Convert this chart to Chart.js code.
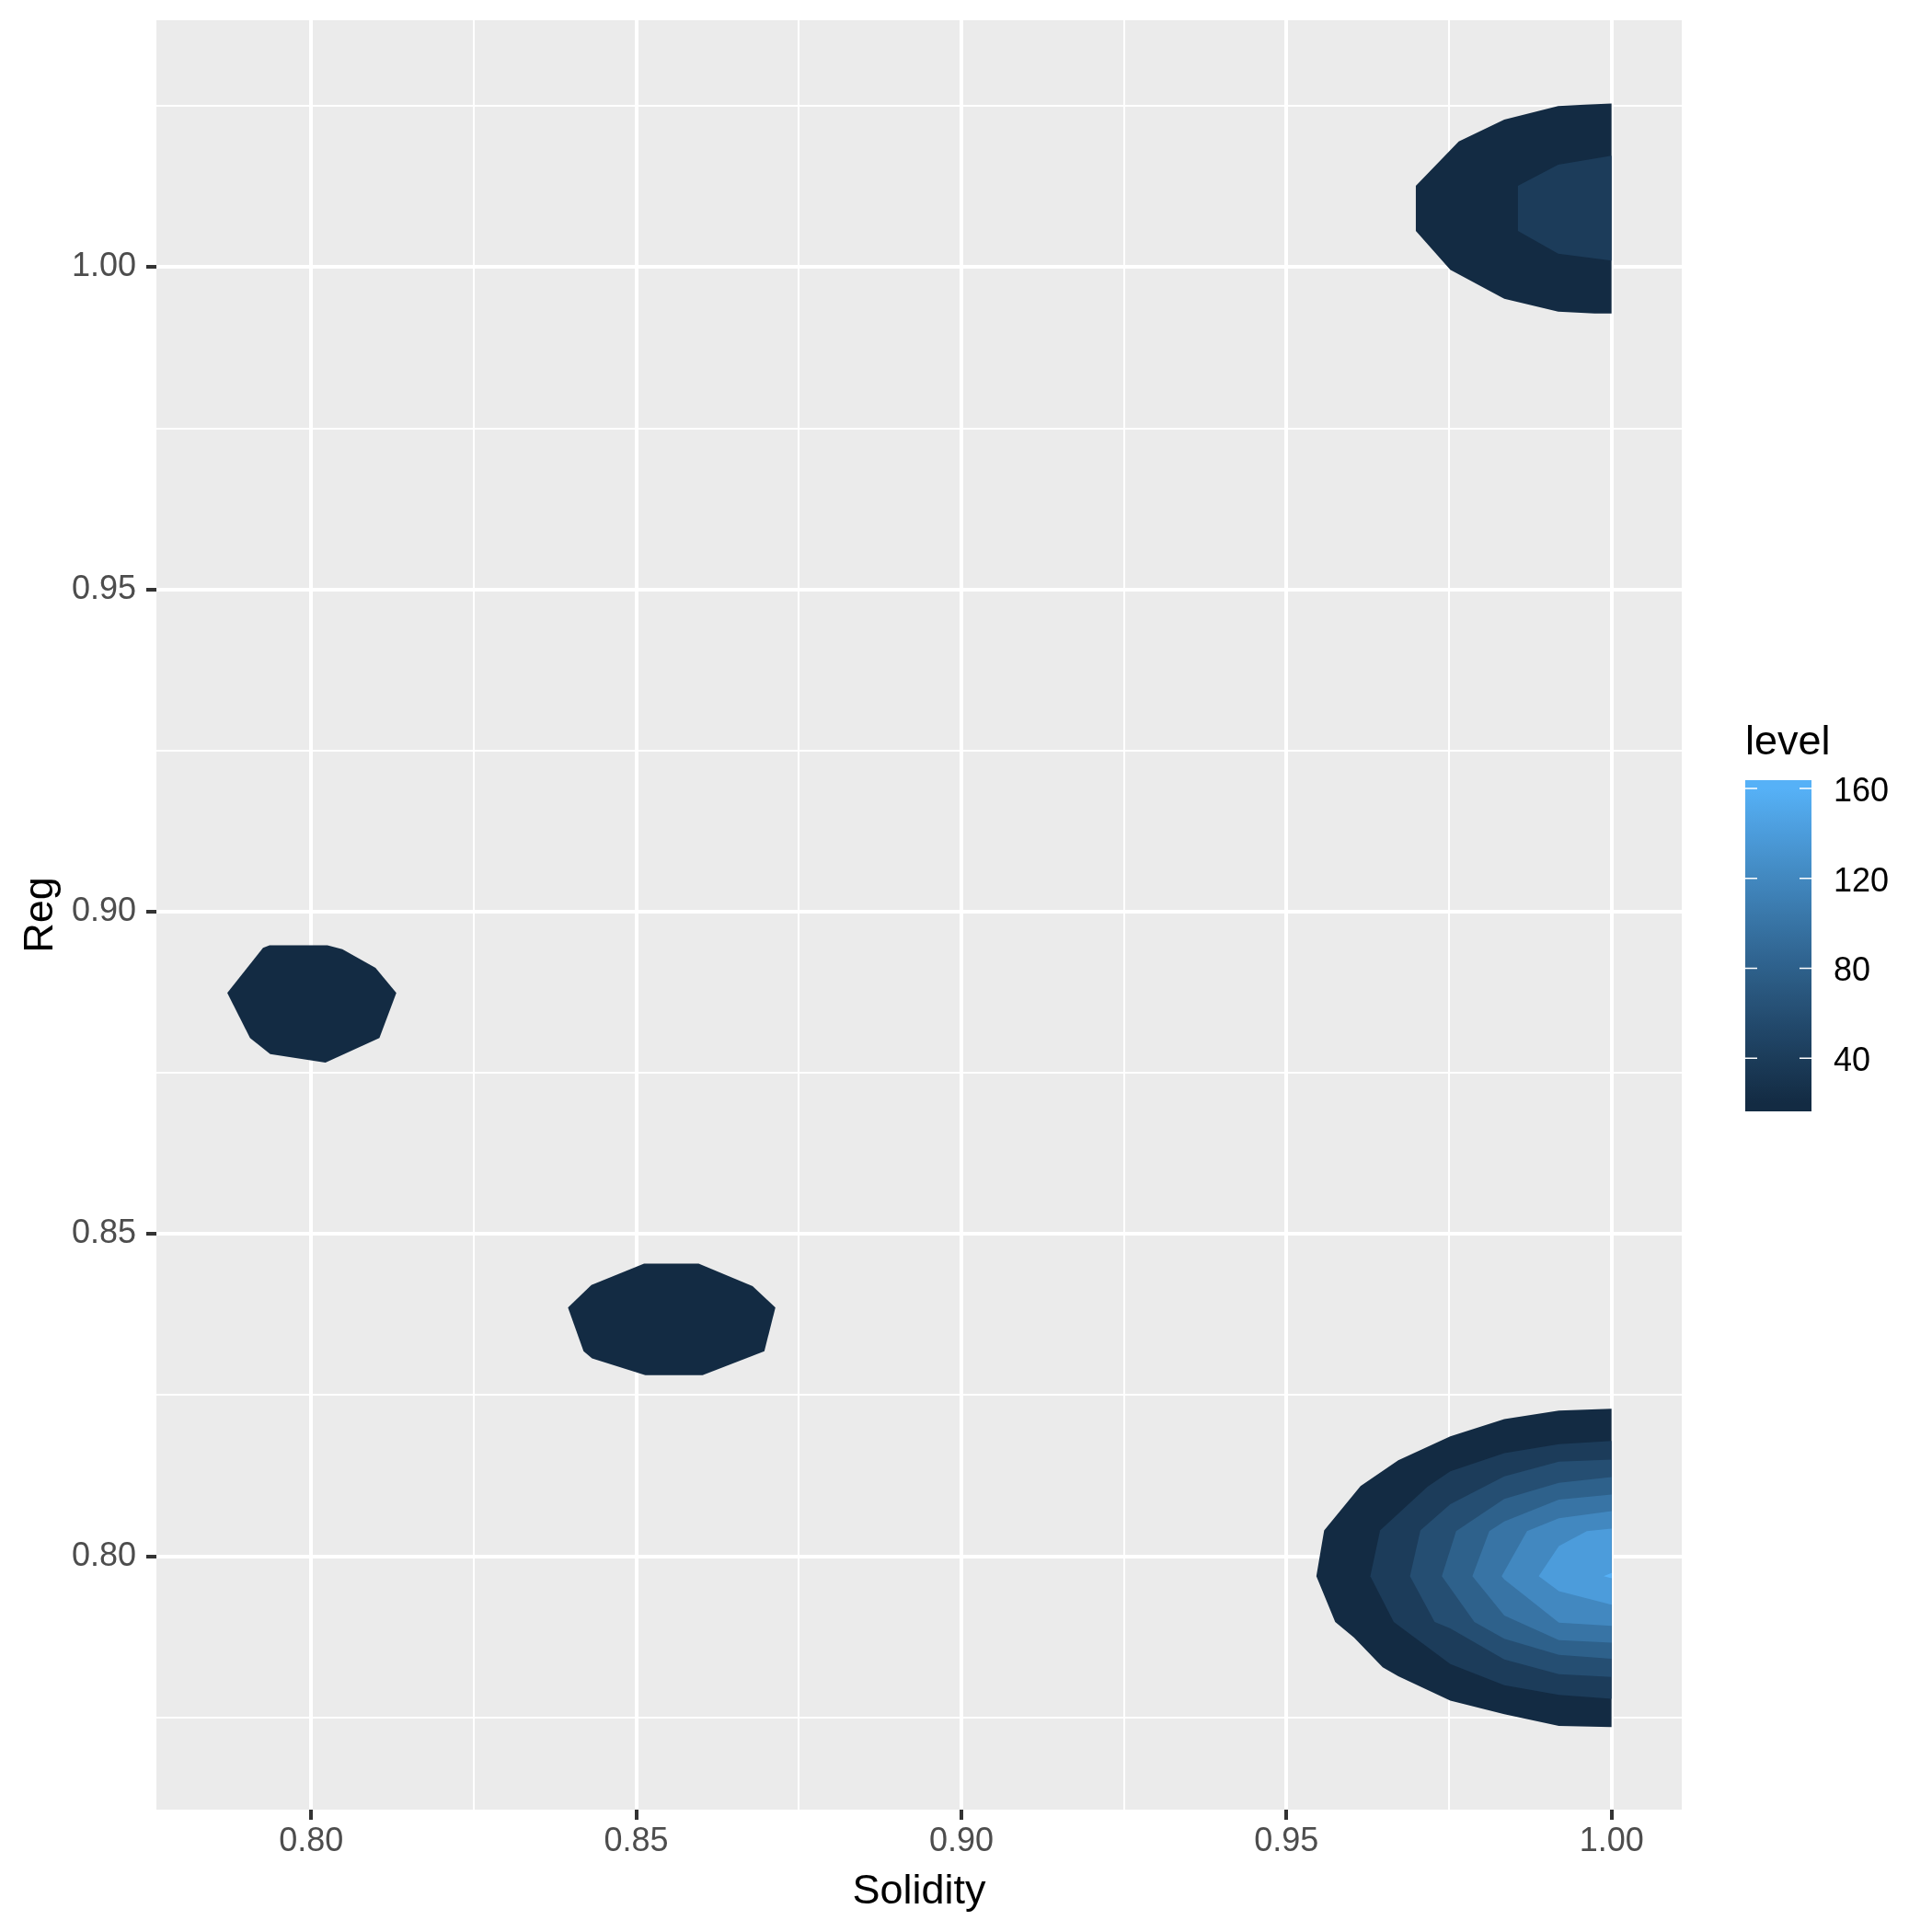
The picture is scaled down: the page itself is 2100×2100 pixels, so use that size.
<!DOCTYPE html>
<html>
<head>
<meta charset="utf-8">
<script src="https://cdn.jsdelivr.net/npm/chart.js@4.4.1/dist/chart.umd.min.js"></script>
<style>
  html, body { margin: 0; padding: 0; background: #ffffff; }
  #wrap { width: 2100px; height: 2100px; }
</style>
</head>
<body>
<div id="wrap"><canvas id="myChart" width="2100" height="2100"></canvas></div>
<script>
// contour levels (density) and the breaks shown in the colour bar
const levels = [20, 40, 60, 80, 100, 120, 140, 160];
const legendBreaks = [40, 80, 120, 160];

// axis breaks
const xBreaks = [0.80, 0.85, 0.90, 0.95, 1.00];
const xMinor = [0.825, 0.875, 0.925, 0.975];
const yBreaks = [0.80, 0.85, 0.90, 0.95, 1.00];
const yMinor = [0.775, 0.825, 0.875, 0.925, 0.975, 1.025];
const xRange = [0.7762, 1.0108];
const yRange = [0.7607, 1.0383];

// contour polygons, points are [Solidity, Reg]
const blobA20 = [[0.7871, 0.8874], [0.7926, 0.8944], [0.7936, 0.8948], [0.8025, 0.8948], [0.8048, 0.8942],
  [0.8099, 0.8913], [0.8131, 0.8874], [0.8105, 0.8804], [0.8022, 0.8766], [0.7937, 0.8779], [0.7906, 0.8804]];

const blobB20 = [[0.8395, 0.8386], [0.8431, 0.8421], [0.8512, 0.8454], [0.8596, 0.8454], [0.8679, 0.8419],
  [0.8714, 0.8386], [0.8697, 0.8318], [0.8602, 0.8281], [0.8514, 0.8281], [0.8432, 0.8307], [0.8419, 0.8318]];

const blobC20 = [[1.0, 1.0254], [0.9959, 1.0252], [0.9918, 1.0250], [0.9835, 1.0229], [0.9765, 1.0195],
  [0.9699, 1.0126], [0.9699, 1.0056], [0.9752, 0.9996], [0.9835, 0.9951], [0.9918, 0.9931],
  [0.9974, 0.9928], [1.0, 0.9928]];
const blobC40 = [[1.0, 1.0173], [0.9918, 1.0159], [0.9856, 1.0126], [0.9856, 1.0056], [0.9918, 1.0021], [1.0, 1.0010]];

const blobD20 = [[1.0, 0.8229], [0.9919, 0.8226], [0.9835, 0.8213], [0.9752, 0.8186], [0.9672, 0.8149],
  [0.9614, 0.8109], [0.9558, 0.8040], [0.9546, 0.7969], [0.9575, 0.7898], [0.9604, 0.7874],
  [0.9648, 0.7828], [0.9672, 0.7814], [0.9752, 0.7776], [0.9835, 0.7755], [0.9919, 0.7737], [1.0, 0.7735]];
const blobD40 = [[1.0, 0.8179], [0.9919, 0.8174], [0.9835, 0.8160], [0.9752, 0.8132], [0.9717, 0.8108],
  [0.9644, 0.8040], [0.9629, 0.7969], [0.9665, 0.7898], [0.9752, 0.7833], [0.9835, 0.7800],
  [0.9919, 0.7785], [1.0, 0.7779]];
const blobD60 = [[1.0, 0.8150], [0.9919, 0.8147], [0.9835, 0.8124], [0.9752, 0.8081], [0.9706, 0.8040],
  [0.9690, 0.7969], [0.9728, 0.7898], [0.9752, 0.7888], [0.9835, 0.7840], [0.9919, 0.7817], [1.0, 0.7813]];
const blobD80 = [[1.0, 0.8123], [0.9919, 0.8114], [0.9835, 0.8089], [0.9761, 0.8039], [0.9739, 0.7969],
  [0.9789, 0.7898], [0.9835, 0.7872], [0.9919, 0.7847], [1.0, 0.7841]];
const blobD100 = [[1.0, 0.8096], [0.9919, 0.8088], [0.9835, 0.8054], [0.9812, 0.8039], [0.9786, 0.7969],
  [0.9835, 0.7908], [0.9919, 0.7870], [1.0, 0.7866]];
const blobD120 = [[1.0, 0.8070], [0.9919, 0.8059], [0.9870, 0.8039], [0.9831, 0.7969], [0.9835, 0.7964],
  [0.9919, 0.7897], [1.0, 0.7892]];
const blobD140 = [[1.0, 0.8043], [0.9962, 0.8039], [0.9919, 0.8016], [0.9888, 0.7969], [0.9919, 0.7946], [1.0, 0.7925]];
const blobD160 = [[1.0, 0.7974], [0.9988, 0.7969], [1.0, 0.7966]];

const contours = [
  { level: 20, pts: blobA20 },
  { level: 20, pts: blobB20 },
  { level: 20, pts: blobC20 },
  { level: 40, pts: blobC40 },
  { level: 20, pts: blobD20 },
  { level: 40, pts: blobD40 },
  { level: 60, pts: blobD60 },
  { level: 80, pts: blobD80 },
  { level: 100, pts: blobD100 },
  { level: 120, pts: blobD120 },
  { level: 140, pts: blobD140 },
  { level: 160, pts: blobD160 },
];

const FONT = "'Liberation Sans', Arial, sans-serif";
const LOW = "#132B43";
const HIGH = "#56B1F7";

// --- colour ramp in CIE Lab, like ggplot's default continuous fill ---
const WHITE = [0.95047, 1.0, 1.08883];
function hexToRgb(h) {
  const n = parseInt(h.slice(1), 16);
  return [(n >> 16) & 255, (n >> 8) & 255, n & 255];
}
function toLinear(c) {
  c /= 255;
  return c <= 0.04045 ? c / 12.92 : Math.pow((c + 0.055) / 1.055, 2.4);
}
function fromLinear(c) {
  const v = c <= 0.0031308 ? 12.92 * c : 1.055 * Math.pow(c, 1 / 2.4) - 0.055;
  return Math.round(Math.max(0, Math.min(1, v)) * 255);
}
function rgbToLab(rgb) {
  const [r, g, b] = rgb.map(toLinear);
  const X = r * 0.4124564 + g * 0.3575761 + b * 0.1804375;
  const Y = r * 0.2126729 + g * 0.7151522 + b * 0.0721750;
  const Z = r * 0.0193339 + g * 0.1191920 + b * 0.9503041;
  const f = (t) => (t > 216 / 24389 ? Math.cbrt(t) : (24389 / 27 * t + 16) / 116);
  const fx = f(X / WHITE[0]), fy = f(Y / WHITE[1]), fz = f(Z / WHITE[2]);
  return [116 * fy - 16, 500 * (fx - fy), 200 * (fy - fz)];
}
function labToRgb([L, a, b]) {
  const fy = (L + 16) / 116, fx = fy + a / 500, fz = fy - b / 200;
  const inv = (t) => (t * t * t > 216 / 24389 ? t * t * t : (116 * t - 16) / (24389 / 27));
  const X = inv(fx) * WHITE[0], Y = inv(fy) * WHITE[1], Z = inv(fz) * WHITE[2];
  const r = 3.2404542 * X - 1.5371385 * Y - 0.4985314 * Z;
  const g = -0.9692660 * X + 1.8760108 * Y + 0.0415560 * Z;
  const bl = 0.0556434 * X - 0.2040259 * Y + 1.0572252 * Z;
  return [r, g, bl].map(fromLinear);
}
const labLow = rgbToLab(hexToRgb(LOW));
const labHigh = rgbToLab(hexToRgb(HIGH));
function colourAt(t) {
  const lab = labLow.map((v, i) => v + (labHigh[i] - v) * t);
  const [r, g, b] = labToRgb(lab);
  return `rgb(${r},${g},${b})`;
}
const minLevel = levels[0];
const maxLevel = levels[levels.length - 1];
function levelColour(v) {
  return colourAt((v - minLevel) / (maxLevel - minLevel));
}

// ticks with a major flag, so grid/labels can style major and minor lines
function tickList(major, minor) {
  return major.map((v) => ({ value: v, major: true }))
    .concat(minor.map((v) => ({ value: v, major: false })))
    .sort((a, b) => a.value - b.value);
}

// grey panel behind the grid
const panelPlugin = {
  id: "panel",
  beforeDraw(chart) {
    const { ctx, chartArea: a } = chart;
    ctx.save();
    ctx.fillStyle = "#ffffff";
    ctx.fillRect(0, 0, chart.width, chart.height);
    ctx.fillStyle = "#EBEBEB";
    ctx.fillRect(a.left, a.top, a.right - a.left, a.bottom - a.top);
    ctx.restore();
  },
};

// colour bar legend on the right
const levelLegend = {
  id: "levelLegend",
  afterDraw(chart) {
    const ctx = chart.ctx;
    const bar = { left: 1897, top: 848, width: 72, height: 360 };
    const half = bar.height / 20 / 2;
    const yFor = (v) => bar.top + bar.height - half - (v - minLevel) / (maxLevel - minLevel) * (bar.height - 2 * half);
    ctx.save();

    const grad = ctx.createLinearGradient(0, yFor(minLevel), 0, yFor(maxLevel));
    for (let i = 0; i <= 20; i++) grad.addColorStop(i / 20, colourAt(i / 20));
    ctx.fillStyle = grad;
    ctx.fillRect(bar.left, bar.top, bar.width, bar.height);

    ctx.strokeStyle = "#ffffff";
    ctx.lineWidth = 1.5;
    ctx.font = `36px ${FONT}`;
    ctx.fillStyle = "#000000";
    ctx.textAlign = "left";
    ctx.textBaseline = "middle";
    legendBreaks.forEach((b) => {
      const y = yFor(b);
      ctx.beginPath();
      ctx.moveTo(bar.left, y);
      ctx.lineTo(bar.left + 13, y);
      ctx.moveTo(bar.left + bar.width - 13, y);
      ctx.lineTo(bar.left + bar.width, y);
      ctx.stroke();
      ctx.fillText(String(b), 1993, y + 4);
    });

    ctx.font = `45px ${FONT}`;
    ctx.textBaseline = "alphabetic";
    ctx.fillText("level", 1897, 820);
    ctx.restore();
  },
};

const datasets = contours.map((c) => ({
  data: c.pts.map(([x, y]) => ({ x, y })),
  fill: "shape",
  backgroundColor: levelColour(c.level),
  borderColor: "rgba(0,0,0,0)",
  borderWidth: 0,
  pointRadius: 0,
  pointHoverRadius: 0,
  order: -c.level, // higher levels drawn on top
}));

const isMajor = (c) => c.tick && c.tick.major;

const ctx = document.getElementById("myChart");
new Chart(ctx, {
  type: "line",
  data: { datasets },
  options: {
    responsive: false,
    animation: false,
    devicePixelRatio: 1,
    layout: { padding: { left: 0, top: 22, right: 272, bottom: 0 } },
    plugins: {
      legend: { display: false },
      tooltip: { enabled: false },
    },
    scales: {
      x: {
        type: "linear",
        min: xRange[0],
        max: xRange[1],
        afterBuildTicks: (axis) => { axis.ticks = tickList(xBreaks, xMinor); },
        afterFit: (axis) => {
          axis.height = 133;
          axis.paddingLeft = 0;
          axis.paddingRight = 0;
        },
        ticks: {
          autoSkip: false,
          maxRotation: 0,
          padding: 6,
          color: "#4D4D4D",
          font: { family: FONT, size: 36, lineHeight: 1 },
          callback: (v, i, ticks) => (ticks[i].major ? v.toFixed(2) : ""),
        },
        grid: {
          color: "#ffffff",
          lineWidth: (c) => (isMajor(c) ? 4 : 2),
          tickLength: 11,
          tickWidth: 4,
          tickColor: (c) => (isMajor(c) ? "#333333" : "rgba(0,0,0,0)"),
        },
        border: { display: false },
        title: {
          display: true,
          text: "Solidity",
          color: "#000000",
          font: { family: FONT, size: 45, lineHeight: 1 },
          padding: { top: 0, bottom: 21 },
        },
      },
      y: {
        type: "linear",
        min: yRange[0],
        max: yRange[1],
        afterBuildTicks: (axis) => { axis.ticks = tickList(yBreaks, yMinor); },
        afterFit: (axis) => {
          axis.width = 170;
          axis.paddingTop = 0;
          axis.paddingBottom = 0;
        },
        ticks: {
          autoSkip: false,
          padding: 11,
          color: "#4D4D4D",
          font: { family: FONT, size: 36, lineHeight: 1 },
          callback: (v, i, ticks) => (ticks[i].major ? v.toFixed(2) : ""),
        },
        grid: {
          color: "#ffffff",
          lineWidth: (c) => (isMajor(c) ? 4 : 2),
          tickLength: 11,
          tickWidth: 4,
          tickColor: (c) => (isMajor(c) ? "#333333" : "rgba(0,0,0,0)"),
        },
        border: { display: false },
        title: {
          display: true,
          text: "Reg",
          color: "#000000",
          font: { family: FONT, size: 45, lineHeight: 1 },
          padding: { top: 22, bottom: 0 },
        },
      },
    },
  },
  plugins: [panelPlugin, levelLegend],
});
</script>
</body>
</html>
